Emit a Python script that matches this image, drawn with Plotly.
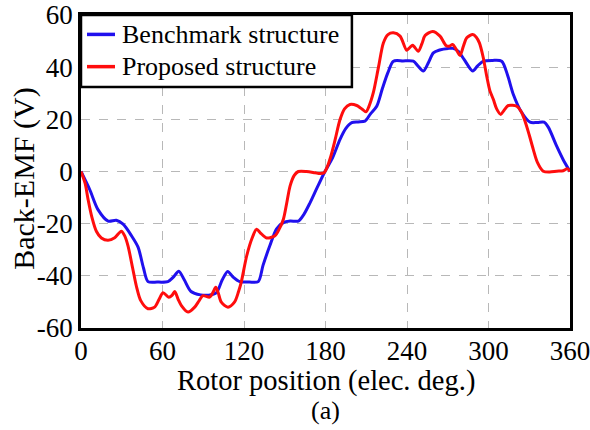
import plotly.graph_objects as go

# Back-EMF waveforms over one electrical period
bench_deg = [0, 6.4, 12.5, 20, 26, 31, 37, 42, 46, 49.3, 56, 64, 68, 72, 76, 81, 88, 94,
             99.6, 104, 108, 112, 116.8, 124, 130.5, 134, 139, 144, 149, 154, 160, 164,
             168.6, 174, 179.6, 185, 190.7, 195, 199.3, 204, 209, 213, 217.7, 222, 226,
             230, 237, 244.7, 248, 252, 256, 259.4, 264, 270.4, 274, 277.8, 282, 288.4,
             292, 296.2, 303, 309.7, 314, 318.3, 324, 330.6, 336, 340.9, 344, 350.2, 355, 360]
bench_emf = [0, -6.9, -14.6, -19, -18.7, -20.2, -24.5, -29, -37, -42.2, -42.4, -42.2, -40.5,
             -38.2, -41.5, -46, -47.3, -47.4, -46.5, -41.5, -38.3, -40.5, -42.2, -42.4, -42.2,
             -36, -28.5, -22, -19.6, -19, -19, -16.5, -12, -6, 0, 5, 12.3, 16.5, 18.7, 19,
             19.3, 22, 25, 32, 38, 42.3, 42.4, 42.3, 40.5, 38.5, 42, 45.5, 46.6, 47.2, 47.2,
             46.1, 43, 38.5, 40.5, 42.3, 42.6, 42.3, 37, 29.5, 23, 18.9, 18.8, 18.9, 17, 9.7,
             4.5, 0]

prop_deg = [0, 3, 5.2, 8, 11.3, 15, 19.9, 24.8, 29.7, 32, 34.6, 38, 40.7, 44, 49.3, 54.2,
            57.5, 60.4, 64.6, 67, 69, 71.5, 73.9, 78.8, 83.7, 87, 89.8, 94.7, 97, 99.2, 101,
            103.3, 108.2, 113.1, 116, 118, 122, 126, 129.3, 132, 136.7, 142.8, 146, 149,
            151.5, 153.9, 157, 160, 166, 172.3, 176, 179, 181, 184, 187, 190.7, 194, 198,
            203, 206, 209.8, 212, 215.2, 219, 222.6, 226, 230, 234.9, 239.8, 242, 244.2,
            248.3, 251, 253.3, 258.9, 264.3, 268.7, 271, 273.6, 276, 279, 281.5, 284, 288.4,
            291, 293.3, 296, 298.7, 301, 303.6, 306, 309, 311.5, 314.6, 320.8, 324, 326.9,
            330, 333, 336, 340.3, 345, 350.2, 355, 358, 360]
prop_emf = [0, -4.5, -10.7, -17.5, -22.9, -25.5, -26.4, -25.4, -22.9, -24.5, -28.5, -37,
            -43.8, -49.5, -52.6, -52, -49, -46.5, -48.2, -47.5, -46, -49, -51.4, -53.9, -52,
            -49.5, -47.6, -48.2, -46.5, -44.4, -46.5, -50.1, -52, -50, -46, -42.4, -32.3,
            -25.5, -22.1, -23.5, -25.5, -24.6, -22, -18.3, -12, -5.6, -1.5, 0, 0, -0.5, -0.8,
            -0.5, 1.4, 6, 12, 19.9, 24, 25.7, 25.3, 24.3, 22.9, 25, 30.2, 40, 49.3, 52.5, 53.2,
            51.9, 46.5, 47.5, 48.4, 46.1, 49, 52.1, 53.7, 51.9, 48.3, 48, 48.7, 47, 44.5, 48,
            51.3, 52.5, 51.5, 49.3, 44, 36.5, 31, 27.6, 24, 21.9, 23.5, 25.3, 25, 23, 19.3, 14,
            8.4, 3.5, 0.1, -0.2, 0.1, 0.3, 1.1, 0]

series_names = ["Benchmark structure", "Proposed structure"]
series_colors = ["#2010ee", "#ff0d0d"]

x_ticks = [0, 60, 120, 180, 240, 300, 360]
y_ticks = [-60, -40, -20, 0, 20, 40, 60]

FONT = "Liberation Serif"

fig = go.Figure()
for name, color, xs, ys in zip(series_names, series_colors,
                               [bench_deg, prop_deg], [bench_emf, prop_emf]):
    fig.add_trace(go.Scatter(x=xs, y=ys, mode="lines", name=name,
                             line=dict(color=color, width=3, shape="spline", smoothing=0.8)))

axis_common = dict(showline=True, linecolor="black", linewidth=2.5, mirror=True,
                   showgrid=True, gridcolor="#b8b8b8", gridwidth=1, griddash="dash",
                   zeroline=False, ticks="", automargin=False, ticklabeloverflow="allow",
                   tickfont=dict(family=FONT, size=27, color="black"))

fig.update_xaxes(range=[0, 360], tickvals=x_ticks, ticktext=[str(v) for v in x_ticks],
                 ticklabelstandoff=-3, **axis_common)
fig.update_yaxes(range=[-60, 60], tickvals=y_ticks, ticktext=[str(v) for v in y_ticks],
                 **axis_common)

# X-axis title
fig.add_annotation(text="Rotor position (elec. deg.)", xref="paper", yref="paper",
                   x=0.5, y=-0.168, xanchor="center", yanchor="middle", showarrow=False,
                   font=dict(family=FONT, size=28.5, color="black"))

# Y-axis title
fig.add_annotation(text="Back-EMF (V)", xref="paper", yref="paper", x=-0.117, y=0.476,
                   xanchor="center", yanchor="middle", textangle=-90, showarrow=False,
                   font=dict(family=FONT, size=30, color="black"))

# Panel label
fig.add_annotation(text="(a)", xref="paper", yref="paper", x=0.5, y=-0.262,
                   xanchor="center", yanchor="middle", showarrow=False,
                   font=dict(family=FONT, size=26, color="black"))

# Boxed legend in the upper-left corner of the plot area
fig.add_shape(type="rect", xref="paper", yref="paper", x0=0, x1=0.554, y0=0.770, y1=1.0,
              line=dict(color="black", width=2.5), fillcolor="white", layer="above")
for row_y, name, color in zip([0.938, 0.835], series_names, series_colors):
    fig.add_shape(type="line", xref="paper", yref="paper", x0=0.0123, x1=0.0695,
                  y0=row_y, y1=row_y, line=dict(color=color, width=3.5), layer="above")
    fig.add_annotation(text=name, xref="paper", yref="paper", x=0.0795, y=row_y,
                       xanchor="left", yanchor="middle", showarrow=False,
                       font=dict(family=FONT, size=26, color="black"))

fig.update_layout(
    width=590, height=430,
    margin=dict(l=81, r=20, t=15, b=102),
    paper_bgcolor="white", plot_bgcolor="white",
    font=dict(family=FONT, color="black"),
    showlegend=False,
)

fig.write_html("out.html")
